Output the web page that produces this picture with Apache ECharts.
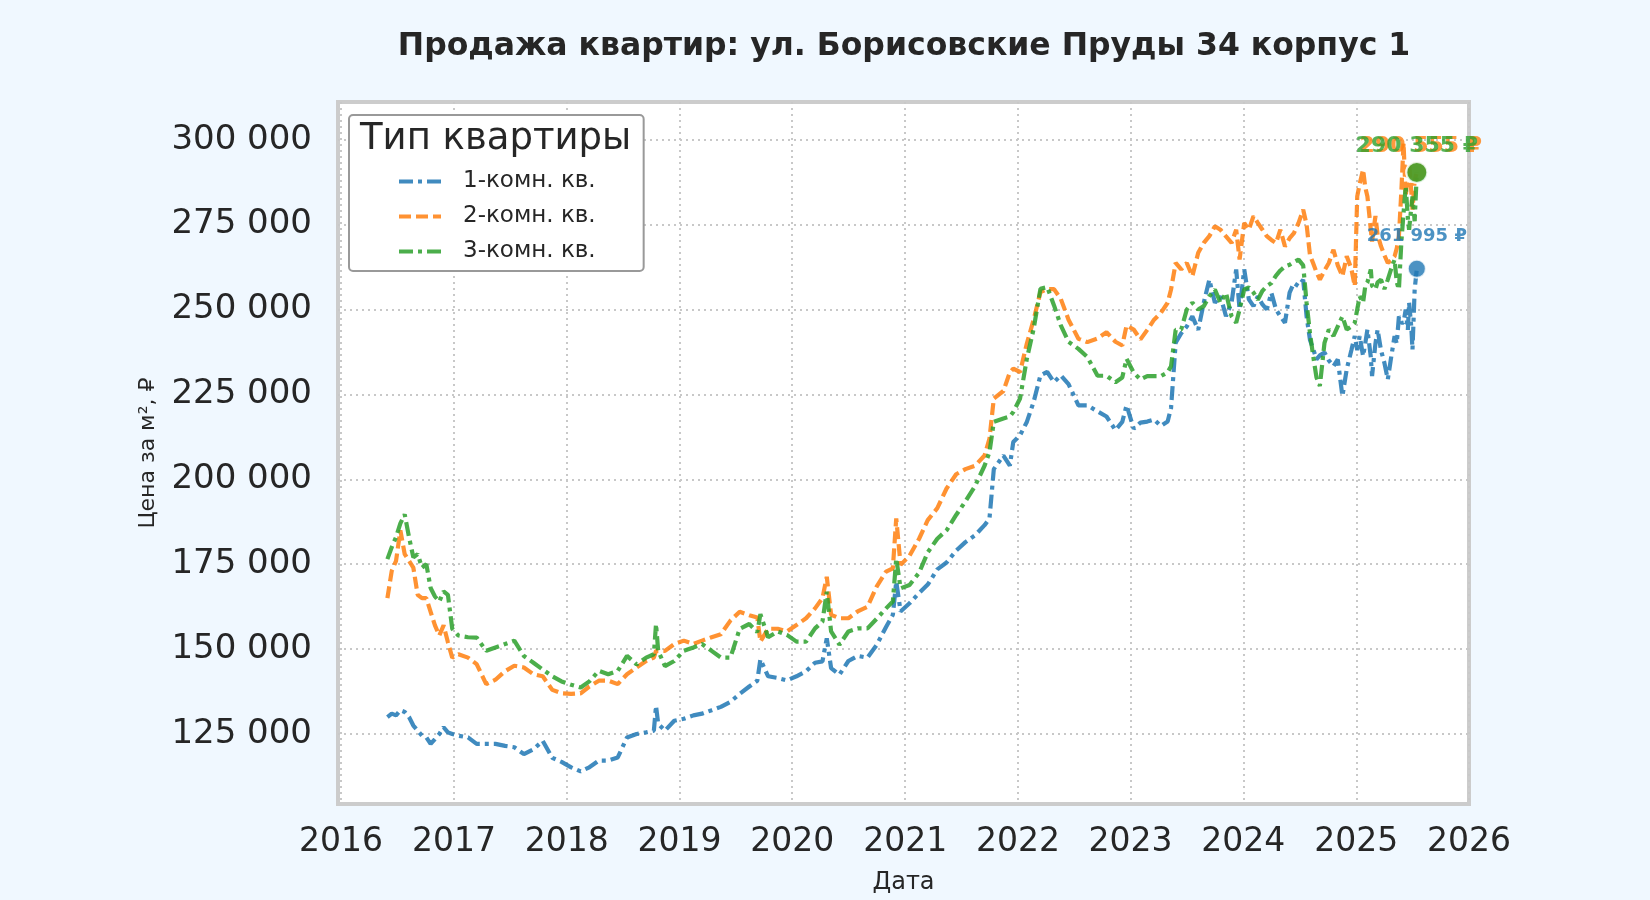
<!DOCTYPE html>
<html lang="ru">
<head>
<meta charset="UTF-8">
<title>Продажа квартир</title>
<script src="https://cdn.jsdelivr.net/npm/echarts@6/dist/echarts.min.js"></script>
<style>
    html, body { margin: 0; padding: 0; background: #f0f8ff; }
    #main { width: 1650px; height: 900px; }
</style>
</head>
<body>
<div id="main"></div>
<script type="text/javascript">
    // даты наблюдений (общие для всех трёх рядов)
    var dates = [
        '2016-05-30','2016-06-13','2016-06-27','2016-07-11','2016-07-25','2016-08-08','2016-08-22','2016-09-05',
        '2016-09-19','2016-10-03','2016-10-17','2016-10-31','2016-11-14','2016-11-28','2016-12-12','2016-12-26',
        '2017-01-15','2017-02-15','2017-03-15','2017-04-15','2017-05-15','2017-06-15','2017-07-15','2017-08-15',
        '2017-09-15','2017-10-15','2017-11-15','2017-12-15',
        '2018-01-15','2018-02-15','2018-03-15','2018-04-15','2018-05-15','2018-06-15','2018-07-15','2018-08-15',
        '2018-09-15','2018-10-10','2018-10-17','2018-10-24','2018-11-15','2018-12-15',
        '2019-01-15','2019-02-15','2019-03-15','2019-04-15','2019-05-15','2019-06-15','2019-07-15','2019-08-15',
        '2019-09-10','2019-09-20','2019-10-15','2019-11-15','2019-12-15',
        '2020-01-15','2020-02-15','2020-03-15','2020-04-08','2020-04-22','2020-05-06','2020-06-02','2020-07-01',
        '2020-07-31','2020-09-01','2020-10-01','2020-10-31','2020-11-22','2020-12-03','2020-12-17',
        '2021-01-15','2021-02-15','2021-03-15','2021-04-15','2021-05-15','2021-06-15','2021-07-15','2021-08-15',
        '2021-09-15','2021-10-01','2021-10-15','2021-11-15','2021-12-06','2021-12-17',
        '2022-01-08','2022-01-30','2022-02-21','2022-03-15','2022-04-06','2022-04-28','2022-05-20','2022-06-14',
        '2022-07-16','2022-08-14','2022-09-16','2022-10-15','2022-11-13','2022-12-05','2022-12-19',
        '2023-01-11','2023-02-02','2023-02-24','2023-03-18','2023-04-09','2023-05-01','2023-05-12','2023-05-27',
        '2023-06-14','2023-07-02','2023-07-20','2023-08-08','2023-08-26','2023-09-13','2023-10-01','2023-10-19',
        '2023-11-06','2023-11-24','2023-12-09','2023-12-20',
        '2024-01-04','2024-01-19','2024-02-03','2024-02-17','2024-03-03','2024-03-17','2024-04-01','2024-04-16',
        '2024-04-30','2024-05-15','2024-05-30','2024-06-13','2024-06-28','2024-07-13','2024-07-24','2024-08-04',
        '2024-08-14','2024-08-25','2024-09-05','2024-09-20','2024-10-04','2024-10-19','2024-11-02','2024-11-17',
        '2024-12-01','2024-12-16','2024-12-27',
        '2025-01-04','2025-01-12','2025-01-23','2025-01-30','2025-02-06','2025-02-17','2025-02-21','2025-03-04',
        '2025-03-11','2025-03-22','2025-04-02','2025-04-13','2025-04-24','2025-05-05','2025-05-12','2025-05-19',
        '2025-05-27','2025-06-03','2025-06-10','2025-06-17','2025-06-21','2025-06-28','2025-07-02','2025-07-09',
        '2025-07-16'
    ];

    // 1-комн. кв.
    var room1 = [
        130000,131000,130500,132000,131500,130000,127500,126000,124500,124000,122100,123500,125000,127000,125500,125000,
        124500,124000,122100,122100,122100,121500,121100,119100,120500,123000,118000,116800,
        115200,114000,115200,117200,117200,118100,124000,125000,125500,126000,133300,128000,126000,128900,
        129500,130500,131000,132000,133000,134500,136800,139000,140700,147000,142000,141500,140800,
        142000,143500,146000,146400,153200,144400,142500,146500,148000,147500,151300,156500,160100,169900,161100,
        163500,166500,169000,173500,175500,179000,181500,183500,186500,188500,203000,207000,204000,211000,
        213000,216900,222800,230600,231600,228600,230600,228000,221800,221800,220000,218500,214500,216900,221800,
        214900,216700,217000,217600,215700,217000,221000,240200,243000,245000,248000,244000,252000,258800,252000,
        253900,248000,252000,261800,250000,
        261800,253000,251000,253900,251500,250000,254900,250000,248000,246100,255000,257800,256900,258800,248000,
        241000,238500,235300,236500,237300,235000,233300,235300,224500,232400,238000,242200,
        238000,242200,236300,240000,244100,236000,230400,240000,244100,238000,234300,229400,236000,242200,240000,
        248000,246100,246100,250000,244000,252000,245000,238200,255900,261995
    ];

    // 2-комн. кв.
    var room2 = [
        165000,173000,176000,185000,178000,176000,174000,166000,165000,165000,161000,157000,154000,157000,152000,147500,
        148500,147500,145600,139700,141000,143500,145100,144600,142600,142000,138000,137000,
        136800,137000,139000,140700,140700,139700,142600,144600,146500,147500,149500,149500,149500,151500,
        152500,151500,152500,153500,154400,158400,161000,160000,159300,152200,156000,156000,155200,
        157100,159100,162000,165000,171300,160100,159100,159100,161100,162500,168500,172800,173800,188500,174800,
        177500,182500,188000,191500,197300,201500,203000,204000,207000,212000,223800,226000,231500,232600,
        231600,240000,247000,255100,256000,256000,253100,247000,241400,240400,241500,243300,240500,239400,245300,
        244100,241200,244000,247000,249000,252000,255900,263700,261800,263700,259800,266700,269600,271600,274500,
        273500,271500,269600,273500,264700,
        275500,273500,277500,275500,273500,271600,270500,269600,273500,268600,271000,272500,275500,279400,275000,
        266000,263700,261000,258800,261500,263700,267600,263000,259800,265700,262000,256900,
        283300,287000,291200,286000,283300,273500,270000,277500,272000,268600,266000,263700,264500,265700,268000,
        271600,285000,299000,283300,290000,293100,285000,279400,288000,290555
    ];

    // 3-комн. кв.
    var room3 = [
        176500,180000,183000,187000,189700,183000,177000,178000,174000,175000,168000,165500,164000,167000,166000,156000,
        154000,153500,153400,149500,150500,151500,152500,148000,146000,144000,142000,140500,
        139500,138700,140500,143600,142600,143600,148000,145500,147500,148500,157400,149500,145000,146500,
        149500,150500,151500,149500,147500,147500,156000,157400,155000,160300,153500,155200,154200,
        152200,152200,156100,158100,166900,155200,151300,155200,156100,156100,159000,162000,164000,176700,167900,
        168900,172500,178500,182500,185000,189500,193500,198000,204000,208000,216900,217900,218500,219800,
        223800,235500,244300,256100,256600,251200,245300,240500,238400,236000,230500,230500,228600,230000,235500,
        231400,229400,230400,230400,230400,231500,233300,244000,244100,250000,252000,250000,251000,253900,255900,
        252000,254900,248000,246100,250000,
        255900,256500,255000,252900,255500,256900,257800,260000,261500,262700,263200,264000,264700,263000,252000,
        243000,236500,230000,227500,240200,244100,242200,245000,248000,244100,245000,246100,
        250000,253900,252000,256900,258000,261800,257000,255900,258000,258800,256000,258800,262000,264700,258000,
        255900,270000,278400,286300,277000,273500,280000,283300,276000,290355
    ];

    var seriesNames = ['1-комн. кв.', '2-комн. кв.', '3-комн. кв.'];
    var seriesColors = ['#1f77b4', '#ff7f0e', '#2ca02c'];
    var yTicks = [125000, 150000, 175000, 200000, 225000, 250000, 275000, 300000];
    var xYears = [2016, 2017, 2018, 2019, 2020, 2021, 2022, 2023, 2024, 2025, 2026];

    var font = 'DejaVu Sans';
    var textColor = '#262626';
    var gridLine = {show: true, lineStyle: {color: '#c8c8c8', width: 2, type: [2, 4]}};
    var dashDot = [14, 5, 4, 5];
    var dashed = [12, 5];

    function fmt(v) {
        return String(v).replace(/\B(?=(\d{3})+(?!\d))/g, ' ');
    }
    function toTime(s) {
        var p = s.split('-');
        return +new Date(+p[0], +p[1] - 1, +p[2]);
    }
    function pairs(vals) {
        return dates.map(function (d, i) { return [toTime(d), vals[i]]; });
    }
    var xTickVals = xYears.map(function (y) { return +new Date(y, 0, 1); });
    var last = dates.length - 1;
    var lastTime = toTime(dates[last]);

    var myChart = echarts.init(document.getElementById('main'));

    var option = {
        backgroundColor: '#f0f8ff',
        animation: false,
        textStyle: {fontFamily: font, color: textColor},
        title: {
            text: 'Продажа квартир: ул. Борисовские Пруды 34 корпус 1',
            left: 899,
            top: 26,
            textAlign: 'center',
            textStyle: {fontSize: 31.5, fontWeight: 'bold', color: textColor, fontFamily: font}
        },
        grid: {
            left: 338, right: 181, top: 102, bottom: 93,
            show: true, backgroundColor: '#ffffff', borderColor: '#cccccc', borderWidth: 4
        },
        legend: {
            data: seriesNames,
            orient: 'vertical',
            left: 349, top: 115,
            padding: [55, 48, 8, 48],
            itemWidth: 42, itemHeight: 14, itemGap: 12,
            backgroundColor: '#ffffff',
            borderColor: '#999999', borderWidth: 2, borderRadius: 4,
            itemStyle: {opacity: 0},
            lineStyle: {width: 4},
            textStyle: {fontSize: 23, color: textColor, fontFamily: font, padding: [0, 0, 0, 17]}
        },
        graphic: [{
            type: 'text', left: 360, top: 121, z: 100,
            style: {text: 'Тип квартиры', fontSize: 37, fill: textColor, fontFamily: font}
        }],
        xAxis: {
            type: 'value',
            min: +new Date(2015, 11, 22),
            max: +new Date(2026, 0, 1),
            name: 'Дата', nameLocation: 'middle', nameGap: 67,
            nameTextStyle: {fontSize: 24, color: textColor, fontFamily: font},
            axisLine: {show: false},
            axisTick: {show: false, customValues: xTickVals},
            axisLabel: {
                customValues: xTickVals, fontSize: 33, color: textColor, margin: 22,
                formatter: function (v) { return String(new Date(v).getFullYear()); }
            },
            splitLine: gridLine
        },
        yAxis: {
            type: 'value',
            min: 104400, max: 311100,
            name: 'Цена за м², ₽', nameLocation: 'middle', nameGap: 179,
            nameTextStyle: {fontSize: 22, color: textColor, fontFamily: font},
            axisLine: {show: false},
            axisTick: {show: false, customValues: yTicks},
            axisLabel: {
                customValues: yTicks, fontSize: 34, color: textColor, margin: 26,
                padding: [9, 0, 0, 0], formatter: fmt
            },
            splitLine: gridLine
        },
        series: [
            {
                name: seriesNames[0], type: 'line', data: pairs(room1), symbol: 'none', showSymbol: false, z: 2,
                itemStyle: {color: seriesColors[0]},
                lineStyle: {color: seriesColors[0], width: 4.2, type: dashDot, opacity: 0.85}
            },
            {
                name: seriesNames[1], type: 'line', data: pairs(room2), symbol: 'none', showSymbol: false, z: 3,
                itemStyle: {color: seriesColors[1]},
                lineStyle: {color: seriesColors[1], width: 4.2, type: dashed, opacity: 0.85}
            },
            {
                name: seriesNames[2], type: 'line', data: pairs(room3), symbol: 'none', showSymbol: false, z: 4,
                itemStyle: {color: seriesColors[2]},
                lineStyle: {color: seriesColors[2], width: 4.2, type: dashDot, opacity: 0.85}
            },
            // последние значения
            {
                type: 'scatter', z: 5, data: [[lastTime, room1[last]]], symbolSize: 18,
                itemStyle: {color: seriesColors[0], borderColor: '#fff', borderWidth: 2},
                label: {
                    show: true, position: 'top', distance: 13,
                    formatter: function (p) { return fmt(p.value[1]) + ' ₽'; },
                    fontSize: 18, fontWeight: 'bold', color: seriesColors[0], fontFamily: font
                }
            },
            {
                type: 'scatter', z: 6, data: [[lastTime, room2[last]]], symbolSize: 21,
                itemStyle: {color: seriesColors[1], borderColor: '#fff', borderWidth: 2},
                label: {
                    show: true, position: 'top', distance: 4, offset: [4, 1],
                    formatter: function (p) { return fmt(p.value[1]) + ' ₽'; },
                    fontSize: 22, fontWeight: 'bold', color: seriesColors[1], fontFamily: font
                }
            },
            {
                type: 'scatter', z: 7, data: [[lastTime, room3[last]]], symbolSize: 21,
                itemStyle: {color: seriesColors[2], borderColor: '#fff', borderWidth: 2},
                label: {
                    show: true, position: 'top', distance: 4,
                    formatter: function (p) { return fmt(p.value[1]) + ' ₽'; },
                    fontSize: 22, fontWeight: 'bold', color: seriesColors[2], fontFamily: font
                }
            }
        ]
    };

    myChart.setOption(option);
</script>
</body>
</html>
